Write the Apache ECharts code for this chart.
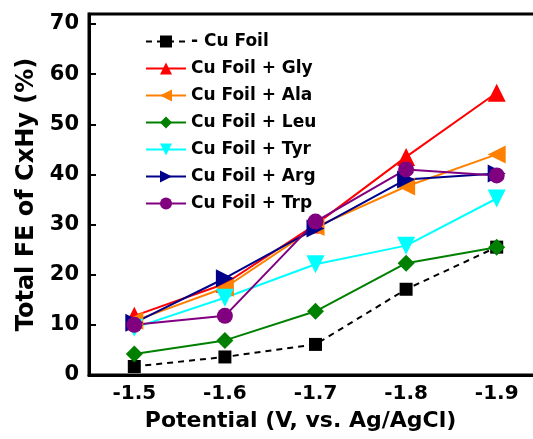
<!DOCTYPE html>
<html>
<head>
<meta charset="utf-8">
<script src="https://cdn.jsdelivr.net/npm/echarts@6/dist/echarts.min.js"></script>
<style>
  html, body { margin: 0; padding: 0; background: #fff; }
  #chart { width: 533px; height: 439px; }
</style>
</head>
<body>
<div id="chart"></div>
<script>
// Applied potential (V vs. Ag/AgCl)
const potentials = ['-1.5', '-1.6', '-1.7', '-1.8', '-1.9'];

// Total Faradaic efficiency of CxHy products (%)
const cuFoil = [1.7, 3.6, 6.1, 17.1, 25.5];
const cuGly  = [11.8, 18.2, 30.0, 43.5, 56.3];
const cuAla  = [10.8, 17.4, 29.5, 37.6, 44.0];
const cuLeu  = [4.2, 6.9, 12.7, 22.3, 25.5];
const cuTyr  = [9.4, 15.4, 22.1, 25.8, 35.2];
const cuArg  = [10.4, 19.3, 29.2, 39.0, 40.2];
const cuTrp  = [10.0, 11.8, 30.6, 41.0, 39.8];

const yTicks = [0, 10, 20, 30, 40, 50, 60, 70];

const FONT = '"DejaVu Sans", sans-serif';

function line(name, data, color, symbol, size, rotate, dashed) {
  return {
    name: name,
    type: 'line',
    data: data,
    symbol: symbol,
    symbolSize: size,
    symbolRotate: rotate,
    lineStyle: { color: color, width: 2, type: dashed ? [6, 5] : 'solid' },
    itemStyle: { color: color },
    emphasis: { disabled: true },
    z: 3
  };
}

const chart = echarts.init(document.getElementById('chart'), null, { renderer: 'canvas' });
chart.setOption({
  animation: false,
  backgroundColor: '#fff',
  grid: {
    left: 89, top: 14, height: 361, width: 453,
    outerBoundsMode: 'none',
    containLabel: false,
    show: true, borderColor: '#000', borderWidth: 3
  },
  legend: {
    orient: 'vertical',
    left: 140, top: 28,
    itemWidth: 40, itemHeight: 15, itemGap: 10,
    textStyle: { fontFamily: FONT, fontWeight: 'bold', fontSize: 17, color: '#000' },
    data: ['- Cu Foil', 'Cu Foil + Gly', 'Cu Foil + Ala', 'Cu Foil + Leu',
           'Cu Foil + Tyr', 'Cu Foil + Arg', 'Cu Foil + Trp']
  },
  xAxis: {
    type: 'category',
    data: potentials,
    boundaryGap: true,
    axisLine: { lineStyle: { color: '#000', width: 3 } },
    axisTick: { alignWithLabel: true, inside: true, length: 7, lineStyle: { color: '#000', width: 3 } },
    axisLabel: { fontFamily: FONT, fontWeight: 'bold', fontSize: 20, color: '#000', margin: 9 },
    name: 'Potential (V, vs. Ag/AgCl)',
    nameLocation: 'middle',
    nameGap: 35,
    nameTextStyle: { fontFamily: FONT, fontWeight: 'bold', fontSize: 22, color: '#000', padding: [0, 30, 0, 0] }
  },
  yAxis: {
    type: 'value',
    min: 0, max: 72, interval: 10,
    splitLine: { show: false },
    axisLine: { show: true, lineStyle: { color: '#000', width: 3 } },
    axisTick: { show: true, inside: true, length: 7, lineStyle: { color: '#000', width: 2 } },
    axisLabel: {
      fontFamily: FONT, fontWeight: 'bold', fontSize: 21, color: '#000', margin: 10,
      showMaxLabel: false,
      formatter: v => (yTicks.indexOf(v) >= 0 ? String(v) : '')
    },
    name: 'Total FE of CxHy (%)',
    nameLocation: 'middle',
    nameGap: 50,
    nameTextStyle: { fontFamily: FONT, fontWeight: 'bold', fontSize: 24, color: '#000' }
  },
  series: [
    line('- Cu Foil', cuFoil, '#000000', 'rect', 13, 0, true),
    line('Cu Foil + Gly', cuGly, '#ff0000', 'triangle', 18, 0),
    line('Cu Foil + Ala', cuAla, '#ff8000', 'triangle', 18, 90),
    line('Cu Foil + Leu', cuLeu, '#008000', 'diamond', 17, 0),
    line('Cu Foil + Tyr', cuTyr, '#00ffff', 'triangle', 18, 180),
    line('Cu Foil + Arg', cuArg, '#00008b', 'triangle', 18, -90),
    line('Cu Foil + Trp', cuTrp, '#800080', 'circle', 16, 0)
  ]
});
</script>
</body>
</html>
